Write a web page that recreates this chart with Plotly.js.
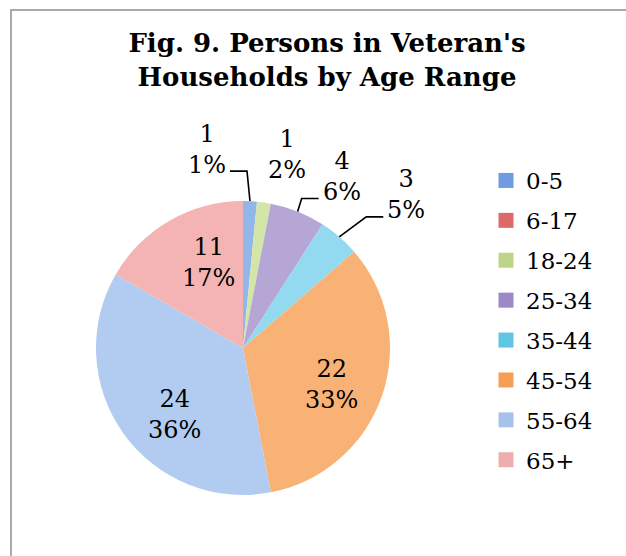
<!DOCTYPE html>
<html><head><meta charset="utf-8">
<script src="https://cdn.plot.ly/plotly-3.0.1.min.js"></script>
<style>
html,body{margin:0;padding:0;background:#fff;overflow:hidden;}
#frame{position:absolute;left:10px;top:9px;width:640px;height:580px;border:2px solid #a9a9a9;box-sizing:border-box;}
#chart{position:absolute;left:0;top:0;width:626px;height:556px;}
</style></head><body>
<div id="frame"></div>
<div id="chart"></div>
<script>
// ---- data ----
const categories = ['0-5','6-17','18-24','25-34','35-44','45-54','55-64','65+'];
const persons = [1, 0, 1, 4, 3, 22, 24, 11];
const pctLabels = ['1%', '0%', '2%', '6%', '5%', '33%', '36%', '17%'];
const titleText = "Fig. 9. Persons in Veteran's<br>Households by Age Range";

// ---- styling / placement ----
const labelPlacement = ['callout', 'none', 'callout', 'callout', 'callout', 'inside', 'inside', 'inside'];
const labelNudge = [[-43, -52], [0, 0], [23, -48], [44, -35], [67, -42], [5, 8], [3, 15], [10, -9]];
const labelLeader = [true, false, false, true, true, false, false, false];
const insideRadiusFrac = 0.6;
const sliceColors = ['#93b6e8', '#e57a76', '#d3e6a8', '#b6a6d6', '#93d9ef', '#f9b275', '#b2cbf0', '#f3b4b3'];
const swatchColors = ['#6f9be0', '#dc6b67', '#bcd588', '#9d89c6', '#5ec6e0', '#f79e55', '#a7c2ea', '#eeadad'];

const W = 626, H = 556;
const pieBox = {left: 96, right: 390, top: 201, bottom: 495}; // pixels
const serif = 'DejaVu Serif';
const labelFont = {family: serif, size: 24, color: '#000'};

const pie = {
  type: 'pie',
  labels: categories,
  values: persons,
  textinfo: 'none',
  marker: {colors: sliceColors, line: {width: 0}},
  sort: false,
  direction: 'clockwise',
  rotation: 0,
  showlegend: false,
  hoverinfo: 'none',
  domain: {x: [pieBox.left / W, pieBox.right / W], y: [1 - pieBox.bottom / H, 1 - pieBox.top / H]}
};

// data labels: positioned from each slice's mid-angle
const total = persons.reduce((a, b) => a + b, 0);
const cx = (pieBox.left + pieBox.right) / 2, cy = (pieBox.top + pieBox.bottom) / 2;
const R = (pieBox.right - pieBox.left) / 2;
const px = x => x / W, py = y => 1 - y / H;
const annotations = [], shapes = [];
let cum = 0;
persons.forEach((v, i) => {
  const mid = (cum + v / 2) / total * 2 * Math.PI;
  cum += v;
  if (labelPlacement[i] === 'none') return;
  const rr = labelPlacement[i] === 'inside' ? R * insideRadiusFrac : R;
  const ax = cx + rr * Math.sin(mid), ay = cy - rr * Math.cos(mid);
  const lx = ax + labelNudge[i][0], ly = ay + labelNudge[i][1];
  annotations.push({
    x: px(lx), y: py(ly), xref: 'paper', yref: 'paper',
    xanchor: 'center', yanchor: 'middle', showarrow: false,
    text: persons[i] + '<br>' + pctLabels[i], font: labelFont, align: 'center'
  });
  if (labelLeader[i]) {
    const side = ax > lx ? 1 : -1;
    const endX = lx + side * 23, elbowY = ly + 22;
    const elbowX = endX + side * 17;
    shapes.push({
      type: 'path', xref: 'paper', yref: 'paper',
      path: `M ${px(ax)} ${py(ay)} L ${px(elbowX)} ${py(elbowY)} L ${px(endX)} ${py(elbowY)}`,
      line: {color: '#000', width: 1.6}
    });
  }
});

const legendTraces = categories.map((c, i) => ({
  type: 'scatter',
  x: [null], y: [null],
  mode: 'markers',
  name: c,
  legendgroup: 'g' + i,
  showlegend: true,
  marker: {symbol: 'square', size: 15, color: swatchColors[i]},
  hoverinfo: 'none'
}));

const layout = {
  width: W, height: H,
  margin: {l: 0, r: 0, t: 0, b: 0},
  paper_bgcolor: 'rgba(0,0,0,0)',
  plot_bgcolor: 'rgba(0,0,0,0)',
  xaxis: {visible: false, domain: [0.9, 1]},
  yaxis: {visible: false, domain: [0.9, 1]},
  title: {
    text: titleText,
    font: {family: serif, size: 26, weight: 'bold', color: '#000'},
    x: 327 / W, xanchor: 'center', xref: 'paper',
    y: 1 - 52 / H, yanchor: 'top', yref: 'paper'
  },
  legend: {
    x: 486 / W, xanchor: 'left',
    y: 1 - 159 / H, yanchor: 'top',
    font: {family: serif, size: 23, color: '#000'},
    tracegroupgap: 7,
    itemclick: false, itemdoubleclick: false,
    bgcolor: 'rgba(0,0,0,0)'
  },
  annotations: annotations,
  shapes: shapes,
  showlegend: true
};

Plotly.newPlot('chart', [pie].concat(legendTraces), layout, {staticPlot: true});
</script>
</body></html>
